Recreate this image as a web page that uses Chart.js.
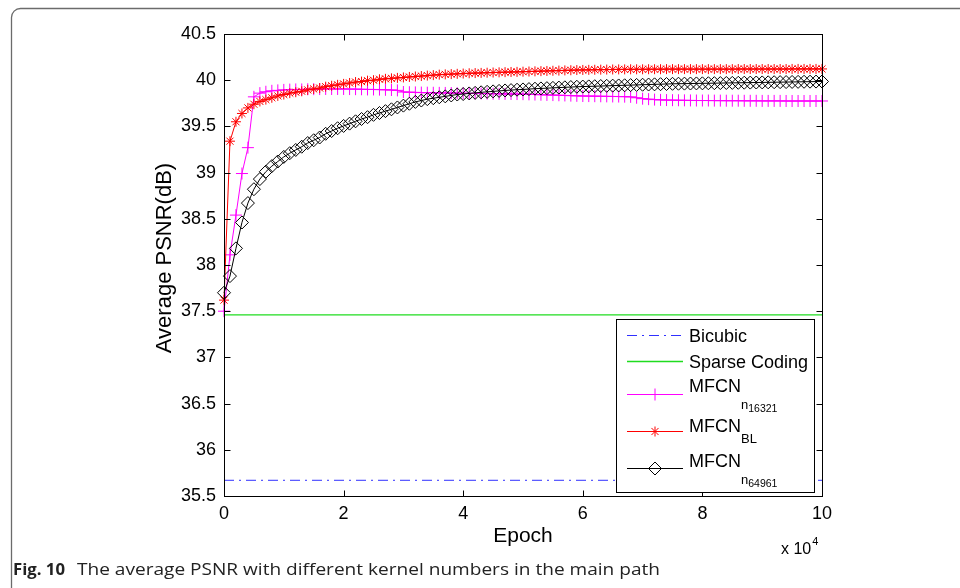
<!DOCTYPE html>
<html>
<head>
<meta charset="utf-8">
<script src="https://cdn.jsdelivr.net/npm/chart.js@4.4.1/dist/chart.umd.min.js"></script>
<style>
  html, body { margin: 0; padding: 0; background: #fff; }
  canvas { display: block; }
</style>
</head>
<body>
<canvas id="chartPSNR" width="960" height="588"></canvas>
<script>
// ---------------- Datos ----------------
// epoch in thousands (axis shows x 10^4)
const epochK = [
  0,1,2,3,4,5,6,7,8,9,10,11,12,13,14,15,16,17,18,19,20,21,22,23,24,25,26,27,28,29,
  30,31,32,33,34,35,36,37,38,39,40,41,42,43,44,45,46,47,48,49,50,51,52,53,54,55,56,57,58,59,
  60,61,62,63,64,65,66,67,68,69,70,71,72,73,74,75,76,77,78,79,80,81,82,83,84,85,86,87,88,89,
  90,91,92,93,94,95,96,97,98,99,100
];
const levelEpochs = [0, 100];

const bicubicPSNR = [35.67, 35.67];
const sparseCodingPSNR = [37.46, 37.46];

const mfcn16321PSNR = [
  37.50,38.11,38.54,38.99,39.27,39.82,39.86,39.875,39.885,39.89,
  39.895,39.898,39.90,39.90,39.902,39.903,39.904,39.905,39.905,39.905,
  39.905,39.904,39.903,39.902,39.90,39.90,39.898,39.896,39.894,39.89,
  39.872,39.870,39.868,39.866,39.865,39.864,39.863,39.862,39.861,39.86,
  39.859,39.858,39.857,39.856,39.855,39.854,39.853,39.852,39.851,39.85,
  39.849,39.847,39.845,39.843,39.841,39.839,39.837,39.835,39.833,39.831,
  39.829,39.828,39.827,39.826,39.825,39.824,39.823,39.822,39.82,39.81,
  39.80,39.795,39.79,39.787,39.785,39.784,39.783,39.782,39.781,39.78,
  39.78,39.78,39.779,39.779,39.778,39.778,39.778,39.777,39.777,39.777,
  39.776,39.776,39.776,39.776,39.775,39.775,39.775,39.775,39.775,39.775,
  39.775
];

const mfcnBLPSNR = [
  37.62,39.34,39.55,39.64,39.70,39.74,39.77,39.79,39.81,39.83,
  39.845,39.86,39.87,39.88,39.895,39.905,39.915,39.93,39.94,39.95,
  39.96,39.97,39.98,39.985,39.995,40.00,40.01,40.015,40.02,40.025,
  40.03,40.035,40.04,40.045,40.05,40.055,40.06,40.063,40.066,40.069,
  40.072,40.075,40.077,40.079,40.081,40.083,40.085,40.087,40.089,40.09,
  40.092,40.094,40.096,40.098,40.10,40.102,40.104,40.106,40.108,40.11,
  40.111,40.112,40.113,40.114,40.115,40.116,40.117,40.117,40.118,40.118,
  40.118,40.119,40.119,40.119,40.12,40.12,40.12,40.12,40.12,40.12,
  40.12,40.12,40.12,40.12,40.12,40.12,40.121,40.121,40.121,40.121,
  40.121,40.121,40.121,40.121,40.121,40.122,40.122,40.122,40.122,40.122,
  40.122
];

const mfcn64961PSNR = [
  37.70,37.88,38.18,38.46,38.67,38.82,38.93,39.01,39.07,39.12,
  39.17,39.21,39.245,39.28,39.32,39.35,39.38,39.42,39.45,39.48,
  39.505,39.53,39.555,39.58,39.60,39.625,39.645,39.665,39.685,39.705,
  39.725,39.745,39.765,39.78,39.795,39.805,39.815,39.825,39.835,39.845,
  39.85,39.857,39.863,39.869,39.874,39.879,39.884,39.889,39.893,39.897,
  39.90,39.904,39.908,39.911,39.914,39.917,39.92,39.923,39.926,39.929,
  39.931,39.933,39.935,39.937,39.939,39.941,39.943,39.945,39.947,39.949,
  39.951,39.953,39.955,39.957,39.959,39.961,39.962,39.963,39.964,39.965,
  39.966,39.967,39.968,39.969,39.97,39.971,39.972,39.973,39.974,39.975,
  39.976,39.977,39.978,39.979,39.98,39.981,39.982,39.983,39.984,39.985,
  39.986
];

const xTickLabels = ['0', '2', '4', '6', '8', '10'];
const yTickLabels = ['35.5', '36', '36.5', '37', '37.5', '38', '38.5', '39', '39.5', '40', '40.5'];

const FONT = "'Liberation Sans', Arial, Helvetica, sans-serif";
const GREEN = '#1fdc1f';
const BLUE = '#3030ff';

const toPoints = (xs, ys) => ys.map((v, i) => ({ x: xs[i], y: v }));

// ---------------- Plugin: marco, ticks, leyenda, textos ----------------
function drawMarker(ctx, style, x, y, r) {
  ctx.beginPath();
  if (style === 'cross') {
    ctx.moveTo(x - r, y); ctx.lineTo(x + r, y);
    ctx.moveTo(x, y - r); ctx.lineTo(x, y + r);
  } else if (style === 'star') {
    ctx.moveTo(x - r, y); ctx.lineTo(x + r, y);
    ctx.moveTo(x, y - r); ctx.lineTo(x, y + r);
    const d = r * Math.SQRT1_2;
    ctx.moveTo(x - d, y - d); ctx.lineTo(x + d, y + d);
    ctx.moveTo(x - d, y + d); ctx.lineTo(x + d, y - d);
  } else if (style === 'rectRot') {
    ctx.moveTo(x, y - r); ctx.lineTo(x + r, y); ctx.lineTo(x, y + r); ctx.lineTo(x - r, y); ctx.closePath();
  }
  ctx.stroke();
}

const legendItems = [
  { text: 'Bicubic', color: BLUE, dash: [10, 5, 2, 5], lineY: 335, baseY: 341.5 },
  { text: 'Sparse Coding', color: GREEN, dash: [], lineY: 361, baseY: 367.5 },
  { text: 'MFCN', sub: 'n', subsub: '16321', color: '#ff00ff', marker: 'cross', r: 6, lineY: 394, baseY: 391.5 },
  { text: 'MFCN', sub: 'BL', color: '#ff0000', marker: 'star', r: 5, lineY: 431, baseY: 431.5 },
  { text: 'MFCN', sub: 'n', subsub: '64961', color: '#000000', marker: 'rectRot', r: 6.5, lineY: 468, baseY: 466.5 }
];

const decoracion = {
  id: 'decoracion',
  beforeDraw(chart) {
    const ctx = chart.ctx;
    ctx.save();
    ctx.fillStyle = '#fff';
    ctx.fillRect(0, 0, chart.width, chart.height);
    // marco redondeado de la figura
    ctx.strokeStyle = '#6b6b6b';
    ctx.lineWidth = 1.3;
    ctx.beginPath();
    ctx.roundRect(11.5, 8.5, 1000, 640, 9);
    ctx.stroke();
    ctx.restore();
  },
  afterDraw(chart) {
    const { ctx, chartArea: a, scales: { x, y } } = chart;
    const L = Math.round(a.left) + 0.5, R = Math.round(a.right) + 0.5;
    const T = Math.round(a.top) + 0.5, B = Math.round(a.bottom) + 0.5;
    ctx.save();
    ctx.strokeStyle = '#000';
    ctx.lineWidth = 1;
    ctx.setLineDash([]);

    // ticks hacia adentro
    ctx.beginPath();
    x.ticks.forEach(t => {
      const px = Math.round(x.getPixelForValue(t.value)) + 0.5;
      ctx.moveTo(px, B); ctx.lineTo(px, B - 6);
      ctx.moveTo(px, T); ctx.lineTo(px, T + 6);
    });
    y.ticks.forEach(t => {
      const py = Math.round(y.getPixelForValue(t.value)) + 0.5;
      ctx.moveTo(L, py); ctx.lineTo(L + 6, py);
      ctx.moveTo(R, py); ctx.lineTo(R - 6, py);
    });
    ctx.stroke();

    // leyenda
    const lx = 616.5, ly = 319.5, lw = 198, lh = 173;
    ctx.fillStyle = '#fff';
    ctx.fillRect(lx, ly, lw, lh);
    ctx.strokeRect(lx, ly, lw, lh);
    legendItems.forEach(it => {
      ctx.strokeStyle = it.color;
      ctx.lineWidth = it.color === GREEN ? 1.5 : 1;
      ctx.setLineDash(it.dash || []);
      ctx.beginPath();
      ctx.moveTo(627, it.lineY + 0.5);
      ctx.lineTo(683, it.lineY + 0.5);
      ctx.stroke();
      ctx.setLineDash([]);
      ctx.lineWidth = 1;
      if (it.marker) drawMarker(ctx, it.marker, 655, it.lineY + 0.5, it.r);
      ctx.fillStyle = '#000';
      ctx.textAlign = 'left';
      ctx.textBaseline = 'alphabetic';
      ctx.font = '18px ' + FONT;
      ctx.fillText(it.text, 689, it.baseY);
      let cx = 689 + ctx.measureText(it.text).width;
      if (it.sub) {
        ctx.font = '13px ' + FONT;
        ctx.fillText(it.sub, cx, it.baseY + (it.subsub ? 17 : 11));
        cx += ctx.measureText(it.sub).width;
      }
      if (it.subsub) {
        ctx.font = '10.5px ' + FONT;
        ctx.fillText(it.subsub, cx, it.baseY + 20);
      }
    });

    // titulos de ejes
    ctx.fillStyle = '#000';
    ctx.textAlign = 'center';
    ctx.textBaseline = 'middle';
    ctx.font = '21px ' + FONT;
    ctx.fillText('Epoch', 523, 536);
    ctx.save();
    ctx.translate(165, 258);
    ctx.rotate(-Math.PI / 2);
    ctx.font = '22px ' + FONT;
    ctx.fillText('Average PSNR(dB)', 0, 0);
    ctx.restore();

    // x 10^4
    ctx.textAlign = 'left';
    ctx.textBaseline = 'alphabetic';
    ctx.font = '16px ' + FONT;
    ctx.fillText('x 10', 781, 554);
    const w10 = ctx.measureText('x 10').width;
    ctx.font = '11px ' + FONT;
    ctx.fillText('4', 781 + w10 + 1, 545);

    // pie de figura
    ctx.fillStyle = '#222';
    ctx.font = "bold 16px 'Open Sans', 'Noto Sans', sans-serif";
    const figTxt = 'Fig. 10';
    const wf = ctx.measureText(figTxt).width;
    ctx.save();
    ctx.translate(13, 575);
    ctx.scale(52 / wf, 1);
    ctx.fillText(figTxt, 0, 0);
    ctx.restore();
    ctx.font = "16px 'Open Sans', 'Noto Sans', sans-serif";
    const capTxt = 'The average PSNR with different kernel numbers in the main path';
    const wc = ctx.measureText(capTxt).width;
    ctx.save();
    ctx.translate(77, 575);
    ctx.scale(583 / wc, 1);
    ctx.fillText(capTxt, 0, 0);
    ctx.restore();

    // caja del grafico
    ctx.strokeStyle = '#000';
    ctx.lineWidth = 1;
    ctx.strokeRect(L, T, R - L, B - T);
    ctx.restore();
  }
};

// ---------------- Grafico ----------------
const chartEl = document.getElementById('chartPSNR').getContext('2d');

const chartPSNR = new Chart(chartEl, {
  type: 'line',
  data: {
    datasets: [
      { label: 'Bicubic', data: toPoints(levelEpochs, bicubicPSNR), borderColor: BLUE, borderWidth: 1,
        borderDash: [10, 5, 2, 5], pointRadius: 0, order: 5 },
      { label: 'Sparse Coding', data: toPoints(levelEpochs, sparseCodingPSNR), borderColor: GREEN, borderWidth: 1.3,
        pointRadius: 0, order: 4 },
      { label: 'MFCN n16321', data: toPoints(epochK, mfcn16321PSNR), borderColor: '#ff00ff', borderWidth: 1,
        pointStyle: 'cross', pointRadius: 6, pointBorderWidth: 1, pointBorderColor: '#ff00ff', order: 3 },
      { label: 'MFCN BL', data: toPoints(epochK, mfcnBLPSNR), borderColor: '#ff0000', borderWidth: 1,
        pointStyle: 'star', pointRadius: 5, pointBorderWidth: 1, pointBorderColor: '#ff0000', order: 2 },
      { label: 'MFCN n64961', data: toPoints(epochK, mfcn64961PSNR), borderColor: '#000000', borderWidth: 1,
        pointStyle: 'rectRot', pointRadius: 6.5, pointBorderWidth: 1, pointBorderColor: '#000000',
        pointBackgroundColor: 'rgba(0,0,0,0)', order: 1 }
    ]
  },
  options: {
    responsive: false,
    animation: false,
    devicePixelRatio: 1,
    clip: false,
    layout: { padding: { left: 0, right: 138, top: 34, bottom: 0 } },
    elements: { line: { tension: 0, fill: false } },
    plugins: { legend: { display: false }, tooltip: { enabled: false } },
    scales: {
      x: {
        type: 'linear', min: 0, max: 100,
        afterFit: s => { s.height = 92; },
        grid: { display: false }, border: { display: false },
        ticks: { stepSize: 20, padding: -1, color: '#000', font: { family: FONT, size: 18 },
          maxRotation: 0, autoSkip: false,
          callback: (v, i) => xTickLabels[i] }
      },
      y: {
        type: 'linear', min: 35.5, max: 40.5,
        afterFit: s => { s.width = 224; },
        grid: { display: false }, border: { display: false },
        ticks: { stepSize: 0.5, padding: 0, color: '#000', font: { family: FONT, size: 18 },
          autoSkip: false,
          callback: (v, i) => yTickLabels[i] }
      }
    }
  },
  plugins: [decoracion]
});
</script>
</body>
</html>
